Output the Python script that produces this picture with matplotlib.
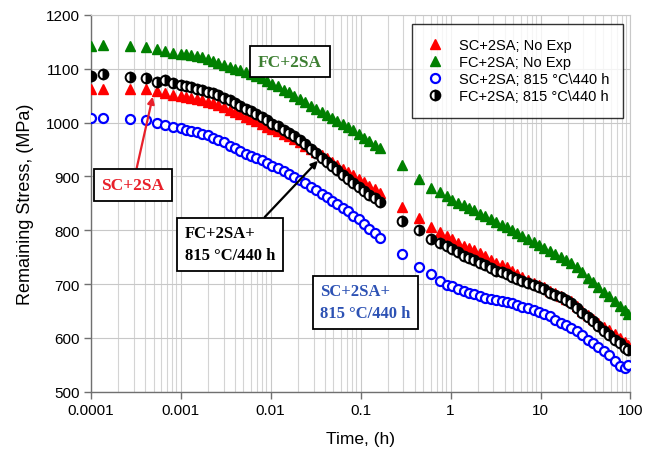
import matplotlib
matplotlib.use("Agg")
import matplotlib.pyplot as plt
from matplotlib.ticker import FixedLocator, FixedFormatter, LogLocator, NullFormatter

plt.rcParams['font.family'] = ['Liberation Sans', 'DejaVu Sans']

# --------------------
# Data
# --------------------
time_h = [
    0.0001, 0.000138, 0.000274, 0.00041, 0.00054, 0.00067, 0.00083,
    0.00100, 0.00115, 0.00132, 0.00151, 0.00174, 0.0020, 0.0023, 0.0026, 0.0030, 0.0035,
    0.0040, 0.0046, 0.0053, 0.0060, 0.0069, 0.0080, 0.0092, 0.0105, 0.012, 0.014,
    0.016, 0.018, 0.021, 0.024, 0.028, 0.032, 0.037, 0.042, 0.048, 0.055,
    0.063, 0.072, 0.083, 0.095, 0.11, 0.125, 0.145, 0.165,
    0.286, 0.448, 0.60, 0.76, 0.92,
    1.05, 1.2, 1.4, 1.6, 1.8, 2.1, 2.4, 2.8, 3.2, 3.7,
    4.2, 4.8, 5.5, 6.3, 7.3, 8.4, 9.6, 11, 12.7, 14.6,
    16.8, 19.3, 22, 25.5, 29, 33.5, 38.5, 44, 51, 58, 67, 77, 88, 95,
]

sc_noexp = [
    1063, 1063, 1063, 1062, 1058, 1055, 1052,
    1050, 1048, 1046, 1044, 1042, 1039, 1036, 1033, 1029, 1024,
    1020, 1016, 1011, 1007, 1002, 997, 992, 988, 984, 979,
    975, 970, 963, 957, 951, 945, 939, 934, 927, 921,
    914, 908, 902, 895, 889, 883, 876, 869,
    843, 822, 806, 796, 789,
    784, 777, 771, 767, 763, 757, 752, 745, 739, 735,
    731, 725, 719, 713, 707, 702, 699, 694, 688, 683,
    678, 673, 668, 660, 650, 642, 635, 627, 620, 614, 607, 600, 592, 586,
]

fc_noexp = [
    1143, 1144, 1143, 1140, 1136, 1132, 1130,
    1128, 1127, 1125, 1123, 1121, 1118, 1115, 1111, 1107, 1103,
    1100, 1097, 1094, 1091, 1087, 1082, 1077, 1072, 1067, 1061,
    1056, 1050, 1044, 1038, 1031, 1026, 1020, 1014, 1009, 1003,
    998, 992, 986, 979, 972, 966, 959, 952,
    922, 896, 879, 871, 863,
    857, 851, 846, 842, 837, 831, 826, 820, 815, 810,
    806, 800, 795, 789, 783, 778, 773, 767, 761, 756,
    750, 744, 739, 731, 722, 712, 703, 695, 686, 678, 669, 660, 651, 645,
]

sc_exp = [
    1008, 1009, 1006, 1004, 1000, 996, 992,
    989, 987, 984, 982, 979, 976, 972, 968, 963, 957,
    952, 947, 942, 938, 934, 930, 925, 920, 915, 910,
    905, 899, 893, 887, 880, 874, 867, 861, 854, 848,
    842, 835, 827, 820, 811, 803, 794, 785,
    755, 732, 719, 705, 699,
    696, 691, 687, 684, 681, 677, 675, 672, 670, 668,
    667, 664, 661, 658, 655, 652, 649, 645, 640, 634,
    628, 624, 619, 612, 605, 597, 591, 584, 576, 568, 557, 548, 545, 550,
]

fc_exp = [
    1087, 1090, 1085, 1083, 1076, 1079, 1073,
    1070, 1068, 1066, 1063, 1060, 1057, 1054, 1051, 1046, 1041,
    1036, 1031, 1026, 1022, 1016, 1010, 1004, 998, 993, 987,
    981, 975, 967, 960, 951, 943, 934, 926, 919, 911,
    903, 896, 888, 881, 873, 866, 859, 852,
    818, 800, 784, 777, 771,
    766, 759, 753, 748, 744, 739, 735, 730, 725, 722,
    719, 714, 710, 706, 702, 699, 695, 690, 684, 680,
    676, 671, 664, 655, 647, 638, 631, 622, 612, 606, 596, 590, 582, 577,
]

x_ticks = [0.0001, 0.001, 0.01, 0.1, 1, 10, 100]
x_tick_labels = ['0.0001', '0.001', '0.01', '0.1', '1', '10', '100']
y_ticks = [500, 600, 700, 800, 900, 1000, 1100, 1200]

# --------------------
# Figure
# --------------------
fig = plt.figure(figsize=(6.52, 4.52), dpi=100)
ax = fig.add_axes([0.139, 0.131, 0.828, 0.834])

ax.plot(time_h, sc_noexp, ls='none', marker='^', ms=7.5, color='#ff0000',
        mec='#ff0000', label='SC+2SA; No Exp', zorder=3)
ax.plot(time_h, fc_noexp, ls='none', marker='^', ms=7.5, color='#008000',
        mec='#008000', label='FC+2SA; No Exp', zorder=3)
ax.plot(time_h, sc_exp, ls='none', marker='o', ms=6.5, mfc='white', mec='#0000ff',
        mew=1.6, label='SC+2SA; 815 °C\\440 h', zorder=3)
ax.plot(time_h, fc_exp, ls='none', marker='o', ms=7, fillstyle='right', color='black',
        mfc='black', markerfacecoloralt='white', mec='black', mew=1.4,
        label='FC+2SA; 815 °C\\440 h', zorder=4)

ax.set_xscale('log')
ax.set_xlim(0.0001, 100)
ax.set_ylim(500, 1200)

ax.xaxis.set_major_locator(FixedLocator(x_ticks))
ax.xaxis.set_major_formatter(FixedFormatter(x_tick_labels))
ax.xaxis.set_minor_locator(LogLocator(base=10, subs=range(2, 10)))
ax.xaxis.set_minor_formatter(NullFormatter())
ax.set_yticks(y_ticks)

ax.grid(True, which='major', color='#c8c8c8', lw=0.8, zorder=0)
ax.grid(True, which='minor', axis='x', color='#d4d4d4', lw=0.8, zorder=0)
ax.set_axisbelow(True)

for side in ['top', 'right']:
    ax.spines[side].set_color('#c8c8c8')
for side in ['left', 'bottom']:
    ax.spines[side].set_color('#707070')
    ax.spines[side].set_linewidth(1.0)

ax.tick_params(axis='both', which='major', direction='out', length=5, width=1,
               color='#707070', labelsize=11, pad=3)
ax.tick_params(axis='x', which='minor', length=0)

ax.set_xlabel('Time, (h)', fontsize=12.5, labelpad=10)
ax.set_ylabel('Remaining Stress, (MPa)', fontsize=13, labelpad=8)

# --------------------
# Annotations
# --------------------
box = dict(boxstyle='square,pad=0.45', fc='white', ec='black', lw=1.3)
serif = ['Liberation Serif', 'DejaVu Serif']

ax.text(0.0164, 1113, 'FC+2SA', color='#3d7f32', fontsize=12.5, fontweight='bold',
        family=serif, ha='center', va='center', bbox=box, zorder=6)

ax.annotate('SC+2SA', xy=(0.00049, 1048), xytext=(0.000295, 884),
            color='#e8202a', fontsize=12.5, fontweight='bold', family=serif,
            ha='center', va='center', bbox=box, zorder=6,
            arrowprops=dict(arrowstyle='-|>', color='#e8202a', lw=1.6,
                            mutation_scale=10, shrinkA=0, shrinkB=0))

ax.annotate('FC+2SA+\n815 °C/440 h', xy=(0.0336, 929), xytext=(0.00353, 774),
            color='black', fontsize=12, fontweight='bold', family=serif,
            ha='center', va='center', ma='left', linespacing=1.5, bbox=box, zorder=6,
            arrowprops=dict(arrowstyle='-|>', color='black', lw=1.6,
                            mutation_scale=10, shrinkA=0, shrinkB=0,
                            relpos=(0.8, 1.0)))

ax.text(0.113, 666, 'SC+2SA+\n815 °C/440 h', color='#2d52b4', fontsize=12,
        fontweight='bold', family=serif, ha='center', va='center', ma='left',
        linespacing=1.5, bbox=box, zorder=6)

leg = ax.legend(loc='upper right', bbox_to_anchor=(0.987, 0.976), borderaxespad=0,
                fontsize=10.5, frameon=True, fancybox=False, edgecolor='black',
                handlelength=1.2, handletextpad=1.0, borderpad=1.0,
                labelspacing=0.2)
leg.get_frame().set_linewidth(1.0)
leg.set_zorder(7)

plt.savefig('out.png', dpi=100)
